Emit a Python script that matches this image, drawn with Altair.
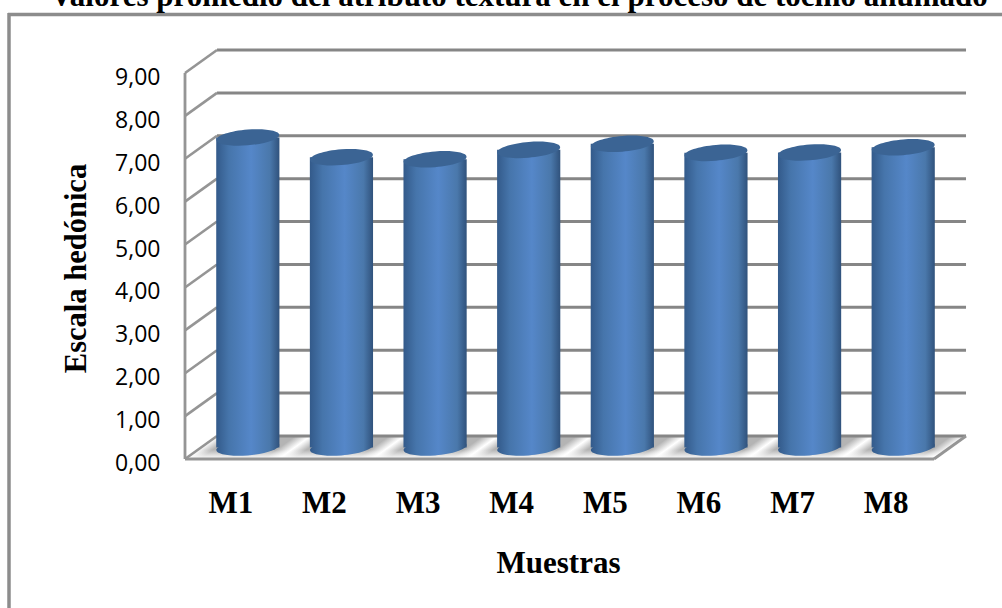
import altair as alt
import pandas as pd

# Chart values
muestras = ["M1", "M2", "M3", "M4", "M5", "M6", "M7", "M8"]
valores = [7.23, 6.77, 6.72, 6.94, 7.08, 6.87, 6.88, 7.00]
marcas_y = list(range(10))
titulo = "Valores promedio del atributo textura en el proceso de tocino ahumado"

# Depth of the 3D box, in axis units
prof_x = 0.342
prof_y = 0.536
ancho_cilindro = 0.675

GRIS = "#868686"
FUENTE_TITULOS = "Liberation Serif"

x_scale = alt.Scale(domain=[0, 8], range=[185, 934], nice=False, zero=False)
y_scale = alt.Scale(domain=[0, 9], range=[459, 73], nice=False, zero=False)


def elipse(a=0.25, b=0.08):
    """Tilted ellipse path for the top and bottom of a cylinder."""
    k = 0.5523
    pts = [(1, 0), (1, k), (k, 1), (0, 1), (-k, 1), (-1, k), (-1, 0),
           (-1, -k), (-k, -1), (0, -1), (k, -1), (1, -k), (1, 0)]
    t = [(px, a * py - b * px) for px, py in pts]
    f = lambda p: f"{p[0]:.4f} {p[1]:.4f}"
    d = "M " + f(t[0])
    for i in range(1, len(t), 3):
        d += " C " + f(t[i]) + " " + f(t[i + 1]) + " " + f(t[i + 2])
    return d + " Z"


cuerpo = alt.Gradient(
    gradient="linear", x1=0, y1=0, x2=1, y2=0,
    stops=[
        alt.GradientStop(offset=0, color="#335a8a"),
        alt.GradientStop(offset=0.2, color="#4675ab"),
        alt.GradientStop(offset=0.55, color="#5587c9"),
        alt.GradientStop(offset=0.85, color="#4a78ab"),
        alt.GradientStop(offset=1, color="#30527c"),
    ],
)
# Isolines follow the slant of the floor tile
sombra = alt.Gradient(
    gradient="linear", x1=0, y1=1, x2=0.7, y2=1.178,
    stops=[
        alt.GradientStop(offset=0, color="#ffffff"),
        alt.GradientStop(offset=0.03, color="#f2f2f2"),
        alt.GradientStop(offset=0.16, color="#b4b4b4"),
        alt.GradientStop(offset=0.84, color="#b4b4b4"),
        alt.GradientStop(offset=0.97, color="#f2f2f2"),
        alt.GradientStop(offset=1, color="#ffffff"),
    ],
)
brillo_piso = alt.Gradient(
    gradient="linear", x1=0, y1=1, x2=0, y2=0,
    stops=[
        alt.GradientStop(offset=0, color="rgba(255,255,255,1)"),
        alt.GradientStop(offset=0.15, color="rgba(255,255,255,0.65)"),
        alt.GradientStop(offset=0.4, color="rgba(255,255,255,0)"),
        alt.GradientStop(offset=1, color="rgba(255,255,255,0)"),
    ],
)

barras = pd.DataFrame({"muestra": muestras, "valor": valores})
barras["centro"] = [i + 0.5 + prof_x / 2 for i in range(len(muestras))]
barras["izq"] = barras["centro"] - ancho_cilindro / 2
barras["der"] = barras["centro"] + ancho_cilindro / 2
barras["base"] = prof_y / 2
barras["tope"] = barras["base"] + barras["valor"]

rejilla = pd.DataFrame({"v": marcas_y})
rejilla["x0"] = prof_x
rejilla["x1"] = 8 + prof_x
rejilla["lado_x0"] = 0.0
rejilla["atras"] = rejilla["v"] + prof_y

borde_piso = pd.DataFrame(
    {"x0": [0, 8], "x1": [8, 8 + prof_x], "y0": [0, 0], "y1": [0, prof_y]}
)
eje_frontal = pd.DataFrame({"x0": [0], "y0": [0], "y1": [9]})

eje_x = alt.Axis(
    orient="bottom", offset=-149,
    values=[i + 0.5 for i in range(len(muestras))],
    labelExpr="['" + "','".join(muestras) + "'][floor(datum.value)]",
    domain=False, ticks=False, grid=False,
    labelFont=FUENTE_TITULOS, labelFontWeight="bold", labelFontSize=31,
    labelColor="#000000", labelPadding=29, labelOverlap=False, labelOffset=-1.5,
    title="Muestras", titleFont=FUENTE_TITULOS, titleFontWeight="bold",
    titleFontSize=31, titleColor="#000000", titleX=558, titleY=89,
)
eje_y = alt.Axis(
    orient="left", offset=-185,
    values=marcas_y,
    labelExpr="replace(format(datum.value, '.2f'), '.', ',')",
    domain=False, ticks=False, grid=False,
    labelFont="Open Sans", labelFontSize=23, labelColor="#000000",
    labelPadding=25, labelOverlap=False, labelOffset=4.5,
    title="Escala hedónica", titleFont=FUENTE_TITULOS, titleFontWeight="bold",
    titleFontSize=30.5, titleColor="#000000", titleX=-94, titleY=268,
    titleAngle=270,
)

X = lambda c: alt.X(c, type="quantitative", scale=x_scale, axis=eje_x)
Y = lambda c: alt.Y(c, type="quantitative", scale=y_scale, axis=eje_y)

marco_sup = alt.Chart().mark_rule(color="#8c8c8c", strokeWidth=3.5).encode(
    x=alt.value(8), x2=alt.value(1002), y=alt.value(14.5)
)
marco_izq = alt.Chart().mark_rule(color="#8c8c8c", strokeWidth=3.5).encode(
    x=alt.value(9), y=alt.value(13), y2=alt.value(608)
)
encabezado = alt.Chart(pd.DataFrame({"t": [titulo]})).mark_text(
    font=FUENTE_TITULOS, fontWeight="bold", fontSize=31, color="#000000",
    align="center", baseline="alphabetic",
).encode(text="t:N", x=alt.value(519), y=alt.value(6))

# Floor shading, one skewed tile per category
ph, sk = 0.246, 0.342
tile = f"M {-1 - sk} {ph} L {1 - sk} {ph} L {1 + sk} {-ph} L {-1 + sk} {-ph} Z"
sombras = alt.Chart(barras).mark_point(
    shape=tile, filled=True, fill=sombra, stroke=None, opacity=1, size=93.6 ** 2
).encode(x=X("centro"), y=Y("base"))
brillos = alt.Chart(barras).mark_point(
    shape=tile, filled=True, fill=brillo_piso, stroke=None, opacity=1, size=93.6 ** 2
).encode(x=X("centro"), y=Y("base"))

lineas_atras = alt.Chart(rejilla).mark_rule(color=GRIS, strokeWidth=3).encode(
    x=X("x0"), x2="x1", y=Y("atras")
)
lineas_lado = alt.Chart(rejilla).mark_rule(color="#959595", strokeWidth=2.6).encode(
    x=X("lado_x0"), x2="x0", y=Y("v"), y2="atras"
)
piso = alt.Chart(borde_piso).mark_rule(color="#959595", strokeWidth=2.8).encode(
    x=X("x0"), x2="x1", y=Y("y0"), y2="y1"
)
frontal = alt.Chart(eje_frontal).mark_rule(color="#959595", strokeWidth=2.8).encode(
    x=X("x0"), y=Y("y0"), y2="y1"
)

ELIPSE_SIZE = 63 ** 2
fondo_cil = alt.Chart(barras).mark_point(
    shape=elipse(), filled=True, fill=cuerpo, stroke=None, opacity=1, size=ELIPSE_SIZE
).encode(x=X("centro"), y=Y("base"))
cuerpo_cil = alt.Chart(barras).mark_bar(fill=cuerpo, stroke=None).encode(
    x=X("izq"), x2="der", y=Y("base"), y2="tope"
)
tapa_cil = alt.Chart(barras).mark_point(
    shape=elipse(), filled=True, fill="#3b6494", stroke=None, opacity=1, size=ELIPSE_SIZE
).encode(x=X("centro"), y=Y("tope"))

chart = alt.layer(
    marco_sup, marco_izq, encabezado, sombras, brillos, lineas_atras, lineas_lado,
    piso, frontal, fondo_cil, cuerpo_cil, tapa_cil,
).properties(
    width=1002,
    height=608,
    padding=0,
    autosize=alt.AutoSizeParams(type="none"),
    background="#ffffff",
).configure_view(stroke=None)

chart.save("out.html", embed_options={"renderer": "svg", "actions": False})
